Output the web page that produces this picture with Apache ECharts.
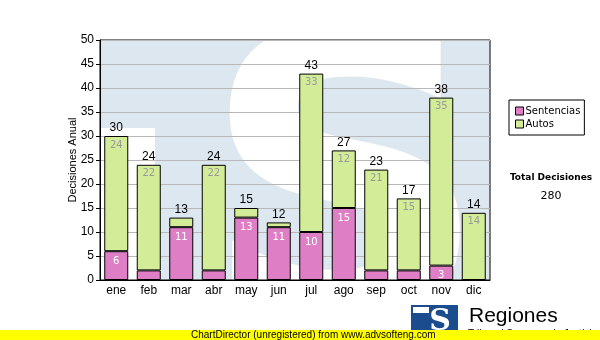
<!DOCTYPE html>
<html><head><meta charset="utf-8">
<script src="https://cdn.jsdelivr.net/npm/echarts@6/dist/echarts.min.js"></script>
<style>html,body{margin:0;padding:0;background:#fff}#c{width:600px;height:340px}</style>
</head><body><div id="c"></div>
<script>
const categories = ['ene','feb','mar','abr','may','jun','jul','ago','sep','oct','nov','dic'];
const sentencias = [6, 2, 11, 2, 13, 11, 10, 15, 2, 2, 3, 0];
const autos = [24, 22, 2, 22, 2, 1, 33, 12, 21, 15, 35, 14];
const totals = categories.map((c, i) => sentencias[i] + autos[i]);
const grandTotal = totals.reduce((a, b) => a + b, 0);
const yTicks = { min: 0, max: 50, interval: 5 };

const chart = echarts.init(document.getElementById('c'));
const G = { l: 100, t: 40, r: 490, b: 280 };
const font = 'Arial, "Liberation Sans", sans-serif';
const vfont = '"DejaVu Sans", Verdana, sans-serif';

chart.setOption({
  animation: false,
  grid: { left: G.l, top: G.t, width: G.r - G.l, height: G.b - G.t, show: true, borderColor: '#000', borderWidth: 1, backgroundColor: 'transparent' },
  legend: {
    data: ['Sentencias', 'Autos'], orient: 'vertical', left: 509, top: 100,
    itemWidth: 8, itemHeight: 8, itemGap: 3, padding: [6, 4, 6, 6],
    borderColor: '#000', borderWidth: 1, icon: 'rect',
    itemStyle: { borderColor: '#000', borderWidth: 1 },
    textStyle: { fontFamily: vfont, fontSize: 10, color: '#000', padding: [0, 0, 0, -3] }
  },
  xAxis: {
    type: 'category', data: categories,
    axisLine: { lineStyle: { color: '#000' } },
    axisTick: { alignWithLabel: true, length: 4, lineStyle: { color: '#000' } },
    axisLabel: { color: '#000', fontFamily: font, fontSize: 12, margin: 5 }
  },
  yAxis: {
    type: 'value', min: yTicks.min, max: yTicks.max, interval: yTicks.interval,
    axisLine: { show: true, lineStyle: { color: '#000' } },
    axisTick: { show: true, length: 4, lineStyle: { color: '#000' } },
    axisLabel: { color: '#000', fontFamily: font, fontSize: 12, margin: 6 },
    splitLine: { lineStyle: { color: '#b8b8b8' } }
  },
  series: [
    { name: 'Sentencias', type: 'bar', stack: 'a', barWidth: 24, data: sentencias,
      itemStyle: { color: '#de7fc6', borderColor: '#000', borderWidth: 1 },
      label: { show: true, position: 'insideTop', distance: 5, color: '#fff', fontFamily: vfont, fontSize: 10,
        formatter: p => p.value >= 3 ? p.value : '' } },
    { name: 'Autos', type: 'bar', stack: 'a', barWidth: 24, data: autos,
      itemStyle: { color: '#d3ec98', borderColor: '#000', borderWidth: 1 },
      label: { show: true, position: 'insideTop', distance: 4, color: '#9a9a9a', fontFamily: vfont, fontSize: 10,
        formatter: p => p.value >= 3 ? p.value : '' } },
    { name: 'Total', type: 'bar', stack: 'a', barWidth: 24, data: totals.map(() => 0),
      itemStyle: { color: 'transparent', borderWidth: 0 },
      label: { show: true, position: 'top', distance: 2, color: '#000', fontFamily: font, fontSize: 12,
        formatter: p => totals[p.dataIndex] } }
  ],
  graphic: [
    { type: 'rect', z: -20, shape: { x: G.l, y: G.t, width: G.r - G.l, height: G.b - G.t }, style: { fill: '#dde7f0' } },
    { type: 'rect', z: -15, shape: { x: G.l, y: 128, width: 55, height: 152 }, style: { fill: '#fff' } },
    { type: 'text', z: -15, x: 345, y: 215, style: { text: 'S', font: 'bold 400px "DejaVu Sans"', fill: '#fff', textAlign: 'center', textVerticalAlign: 'middle' } },
    { type: 'rect', z: -5, shape: { x: 0, y: 0, width: 600, height: G.t }, style: { fill: '#fff' } },
    { type: 'rect', z: -5, shape: { x: 0, y: 0, width: G.l, height: 340 }, style: { fill: '#fff' } },
    { type: 'rect', z: -5, shape: { x: G.r, y: 0, width: 110, height: 340 }, style: { fill: '#fff' } },
    { type: 'rect', z: -5, shape: { x: 0, y: G.b, width: 600, height: 60 }, style: { fill: '#fff' } },
    { type: 'text', z: 10, x: 73, y: 160, rotation: Math.PI / 2, style: { text: 'Decisiones Anual', font: '11px Arial, "Liberation Sans"', fill: '#000', textAlign: 'center', textVerticalAlign: 'middle' } },
    { type: 'text', z: 10, x: 551, y: 178, style: { text: 'Total Decisiones', font: 'bold 9px "DejaVu Sans"', fill: '#000', textAlign: 'center', textVerticalAlign: 'middle' } },
    { type: 'text', z: 10, x: 551, y: 196, style: { text: String(grandTotal), font: '11px "DejaVu Sans"', fill: '#000', textAlign: 'center', textVerticalAlign: 'middle' } },
    { type: 'rect', z: 10, shape: { x: 411, y: 305, width: 47, height: 30 }, style: { fill: '#1b4d8e' } },
    { type: 'rect', z: 11, shape: { x: 413, y: 307, width: 16, height: 6 }, style: { fill: '#fff' } },
    { type: 'text', z: 11, x: 440, y: 322, style: { text: 'S', font: 'bold 30px "DejaVu Serif"', fill: '#fff', textAlign: 'center', textVerticalAlign: 'middle' } },
    { type: 'text', z: 10, x: 469, y: 316, style: { text: 'Regiones', font: '21px Arial, "Liberation Sans"', fill: '#000', textVerticalAlign: 'middle' } },
    { type: 'text', z: 10, x: 468, y: 334, style: { text: 'Tribunal Supremo de Justicia', font: '10px Arial, "Liberation Sans"', fill: '#000', textVerticalAlign: 'middle' } },
    { type: 'rect', z: 20, shape: { x: 0, y: 330, width: 600, height: 10 }, style: { fill: '#ffff00' } },
    { type: 'text', z: 21, x: 191, y: 335, style: { text: 'ChartDirector (unregistered) from www.advsofteng.com', font: '10px Arial, "Liberation Sans"', fill: '#000', textVerticalAlign: 'middle' } }
  ]
});
</script></body></html>
